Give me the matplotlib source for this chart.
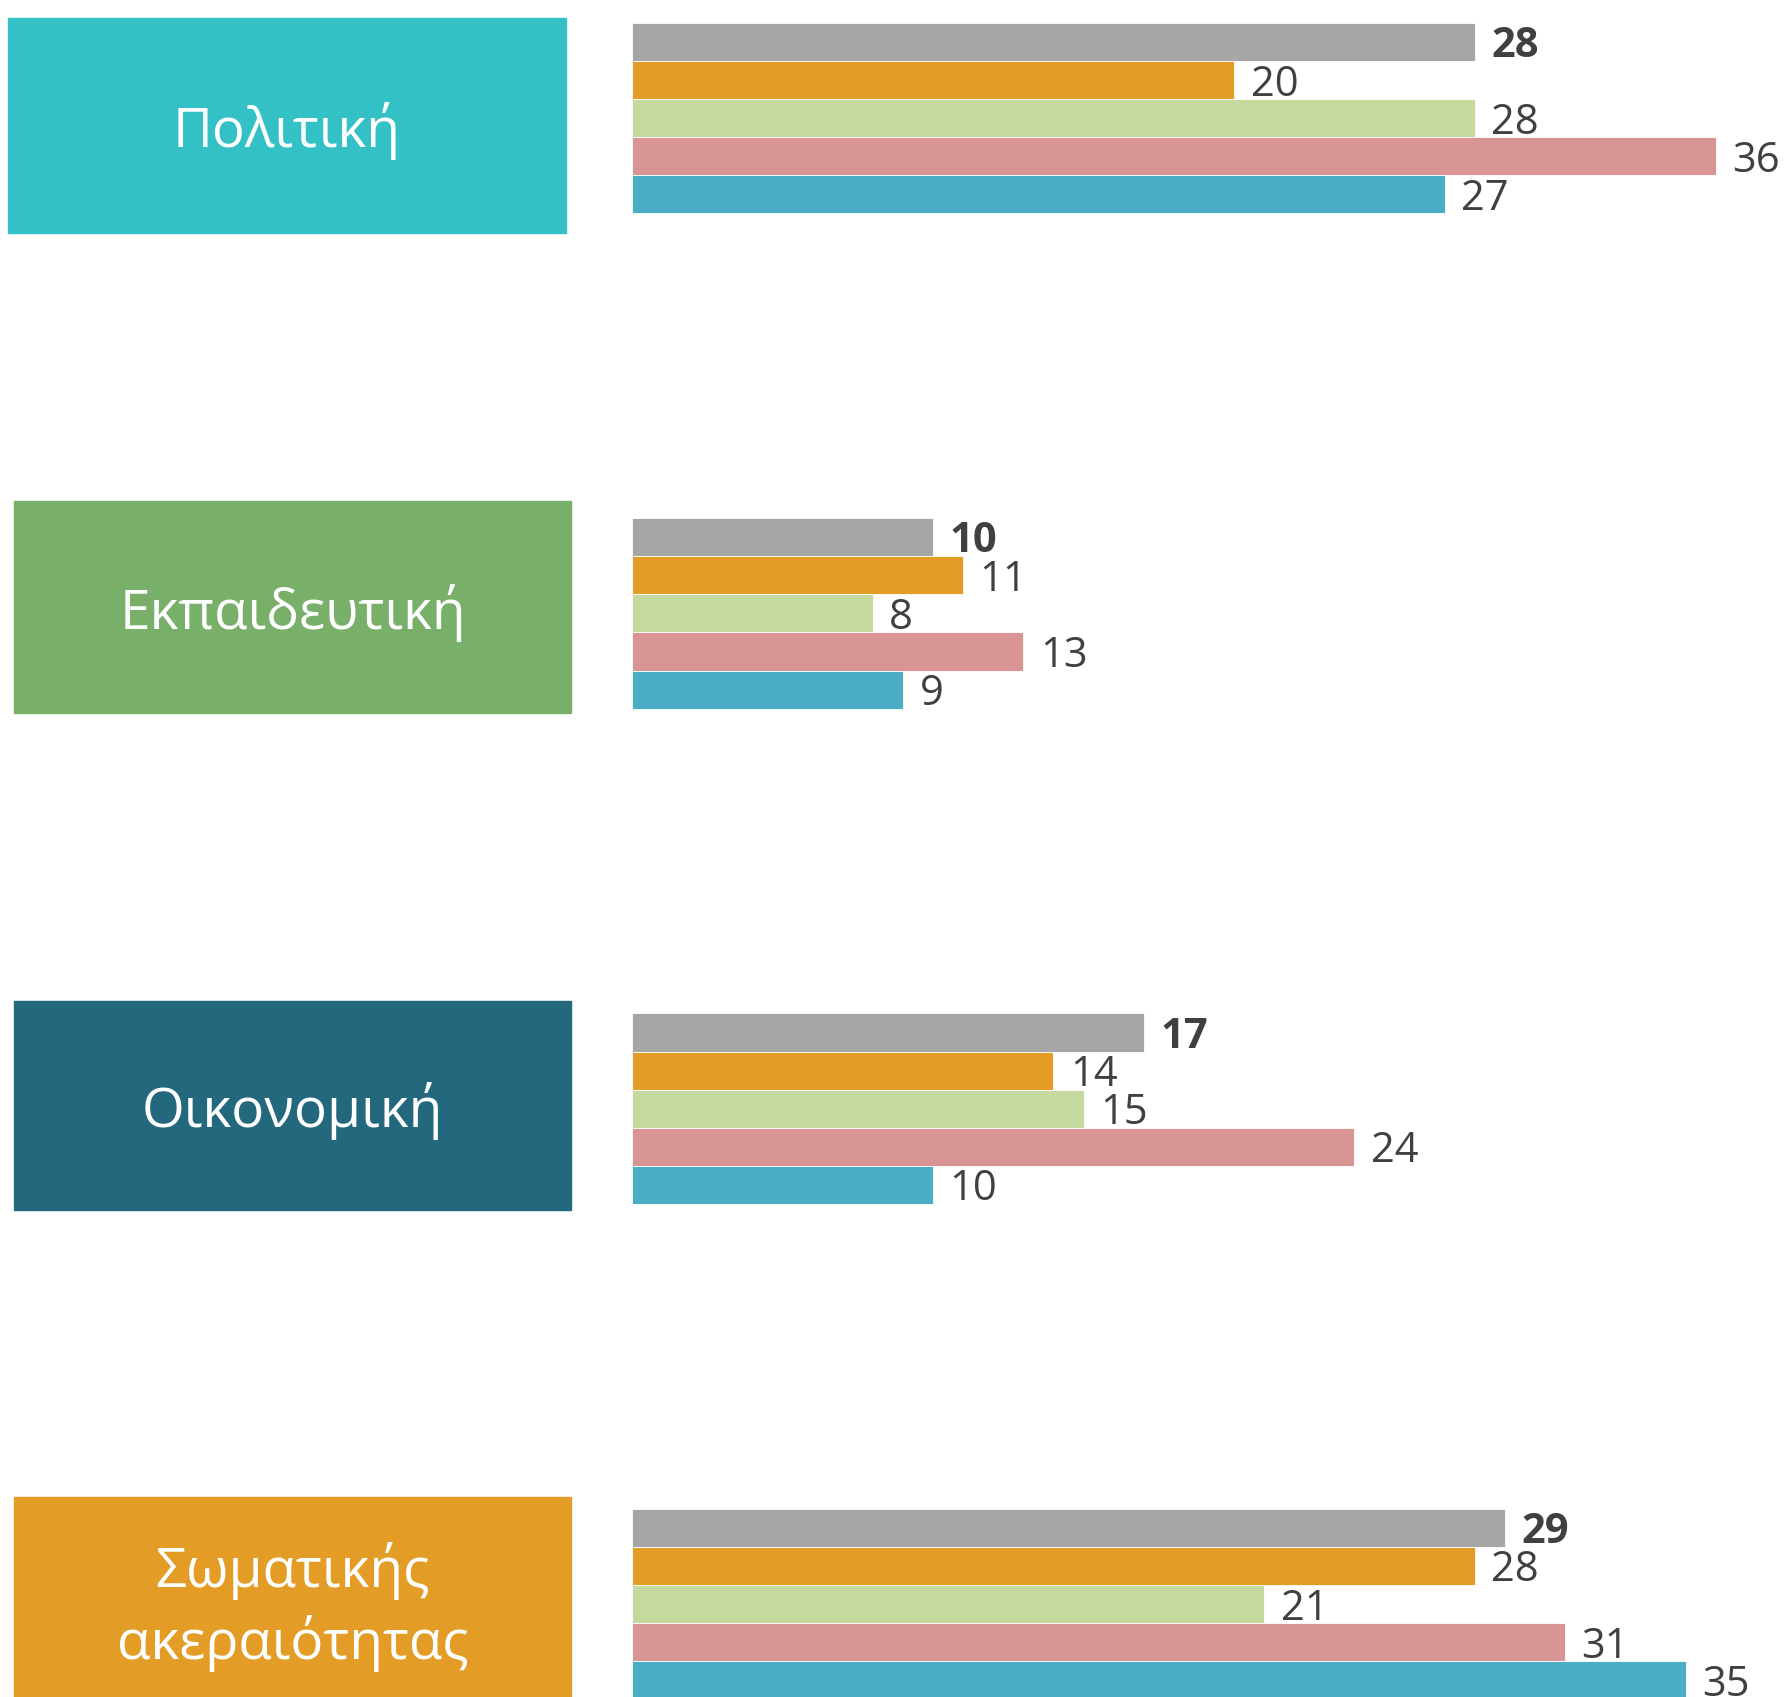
import numpy as np
import matplotlib.pyplot as plt
from matplotlib.patches import Rectangle

plt.rcParams['font.family'] = ['Open Sans', 'DejaVu Sans']

# data
categories = ["Πολιτική", "Εκπαιδευτική", "Οικονομική", "Σωματικής\nακεραιότητας"]
series_colors = ["#A6A6A6", "#E39D27", "#C5D89D", "#D99594", "#4BACC6"]
values = [
    [28, 20, 28, 36, 27],
    [10, 11, 8, 13, 9],
    [17, 14, 15, 24, 10],
    [29, 28, 21, 31, 35],
]
box_colors = ["#33C1C6", "#78AF69", "#23687C", "#E39D27"]

W, H = 1786, 1697
fig = plt.figure(figsize=(W / 100, H / 100), dpi=100)

# category boxes (pixel geometry, top-left origin)
boxes = [(8, 18, 566, 233), (14, 501, 571, 713), (14, 1001, 571, 1210), (14, 1497, 571, 1710)]
for (x0, y0, x1, y1), col, name in zip(boxes, box_colors, categories):
    fig.patches.append(Rectangle((x0 / W, 1 - y1 / H), (x1 - x0) / W, (y1 - y0) / H,
                                 transform=fig.transFigure, color=col, zorder=0))
    yc = (y0 + y1) / 2 + 6 if name.count("\n") == 0 else 1607
    fig.text((x0 + x1) / 2 / W, 1 - yc / H, name, color="white", fontsize=39.5,
             ha="center", va="center", linespacing=1.35)

# bars
x_left = 632
px_per_unit = 30.1
slot = 38.1
ax = fig.add_axes([x_left / W, 0, 1 - x_left / W, 1])
ax.set_xlim(0, (W - x_left) / px_per_unit)
ax.set_ylim(H / slot, 0)
ax.axis("off")

top0 = 22.8 / slot
group_step = 13.0
for g, vals in enumerate(values):
    for j, v in enumerate(vals):
        yc = top0 + g * group_step + j + 0.5
        ax.barh(yc, v, height=1.0, color=series_colors[j], edgecolor="white", linewidth=0.6)
        ax.text(v + 0.55, yc + 0.12, str(v), va="center", ha="left", fontsize=30, color="#404040",
                fontweight="bold" if j == 0 else "normal")

plt.savefig("out.png", dpi=100)
